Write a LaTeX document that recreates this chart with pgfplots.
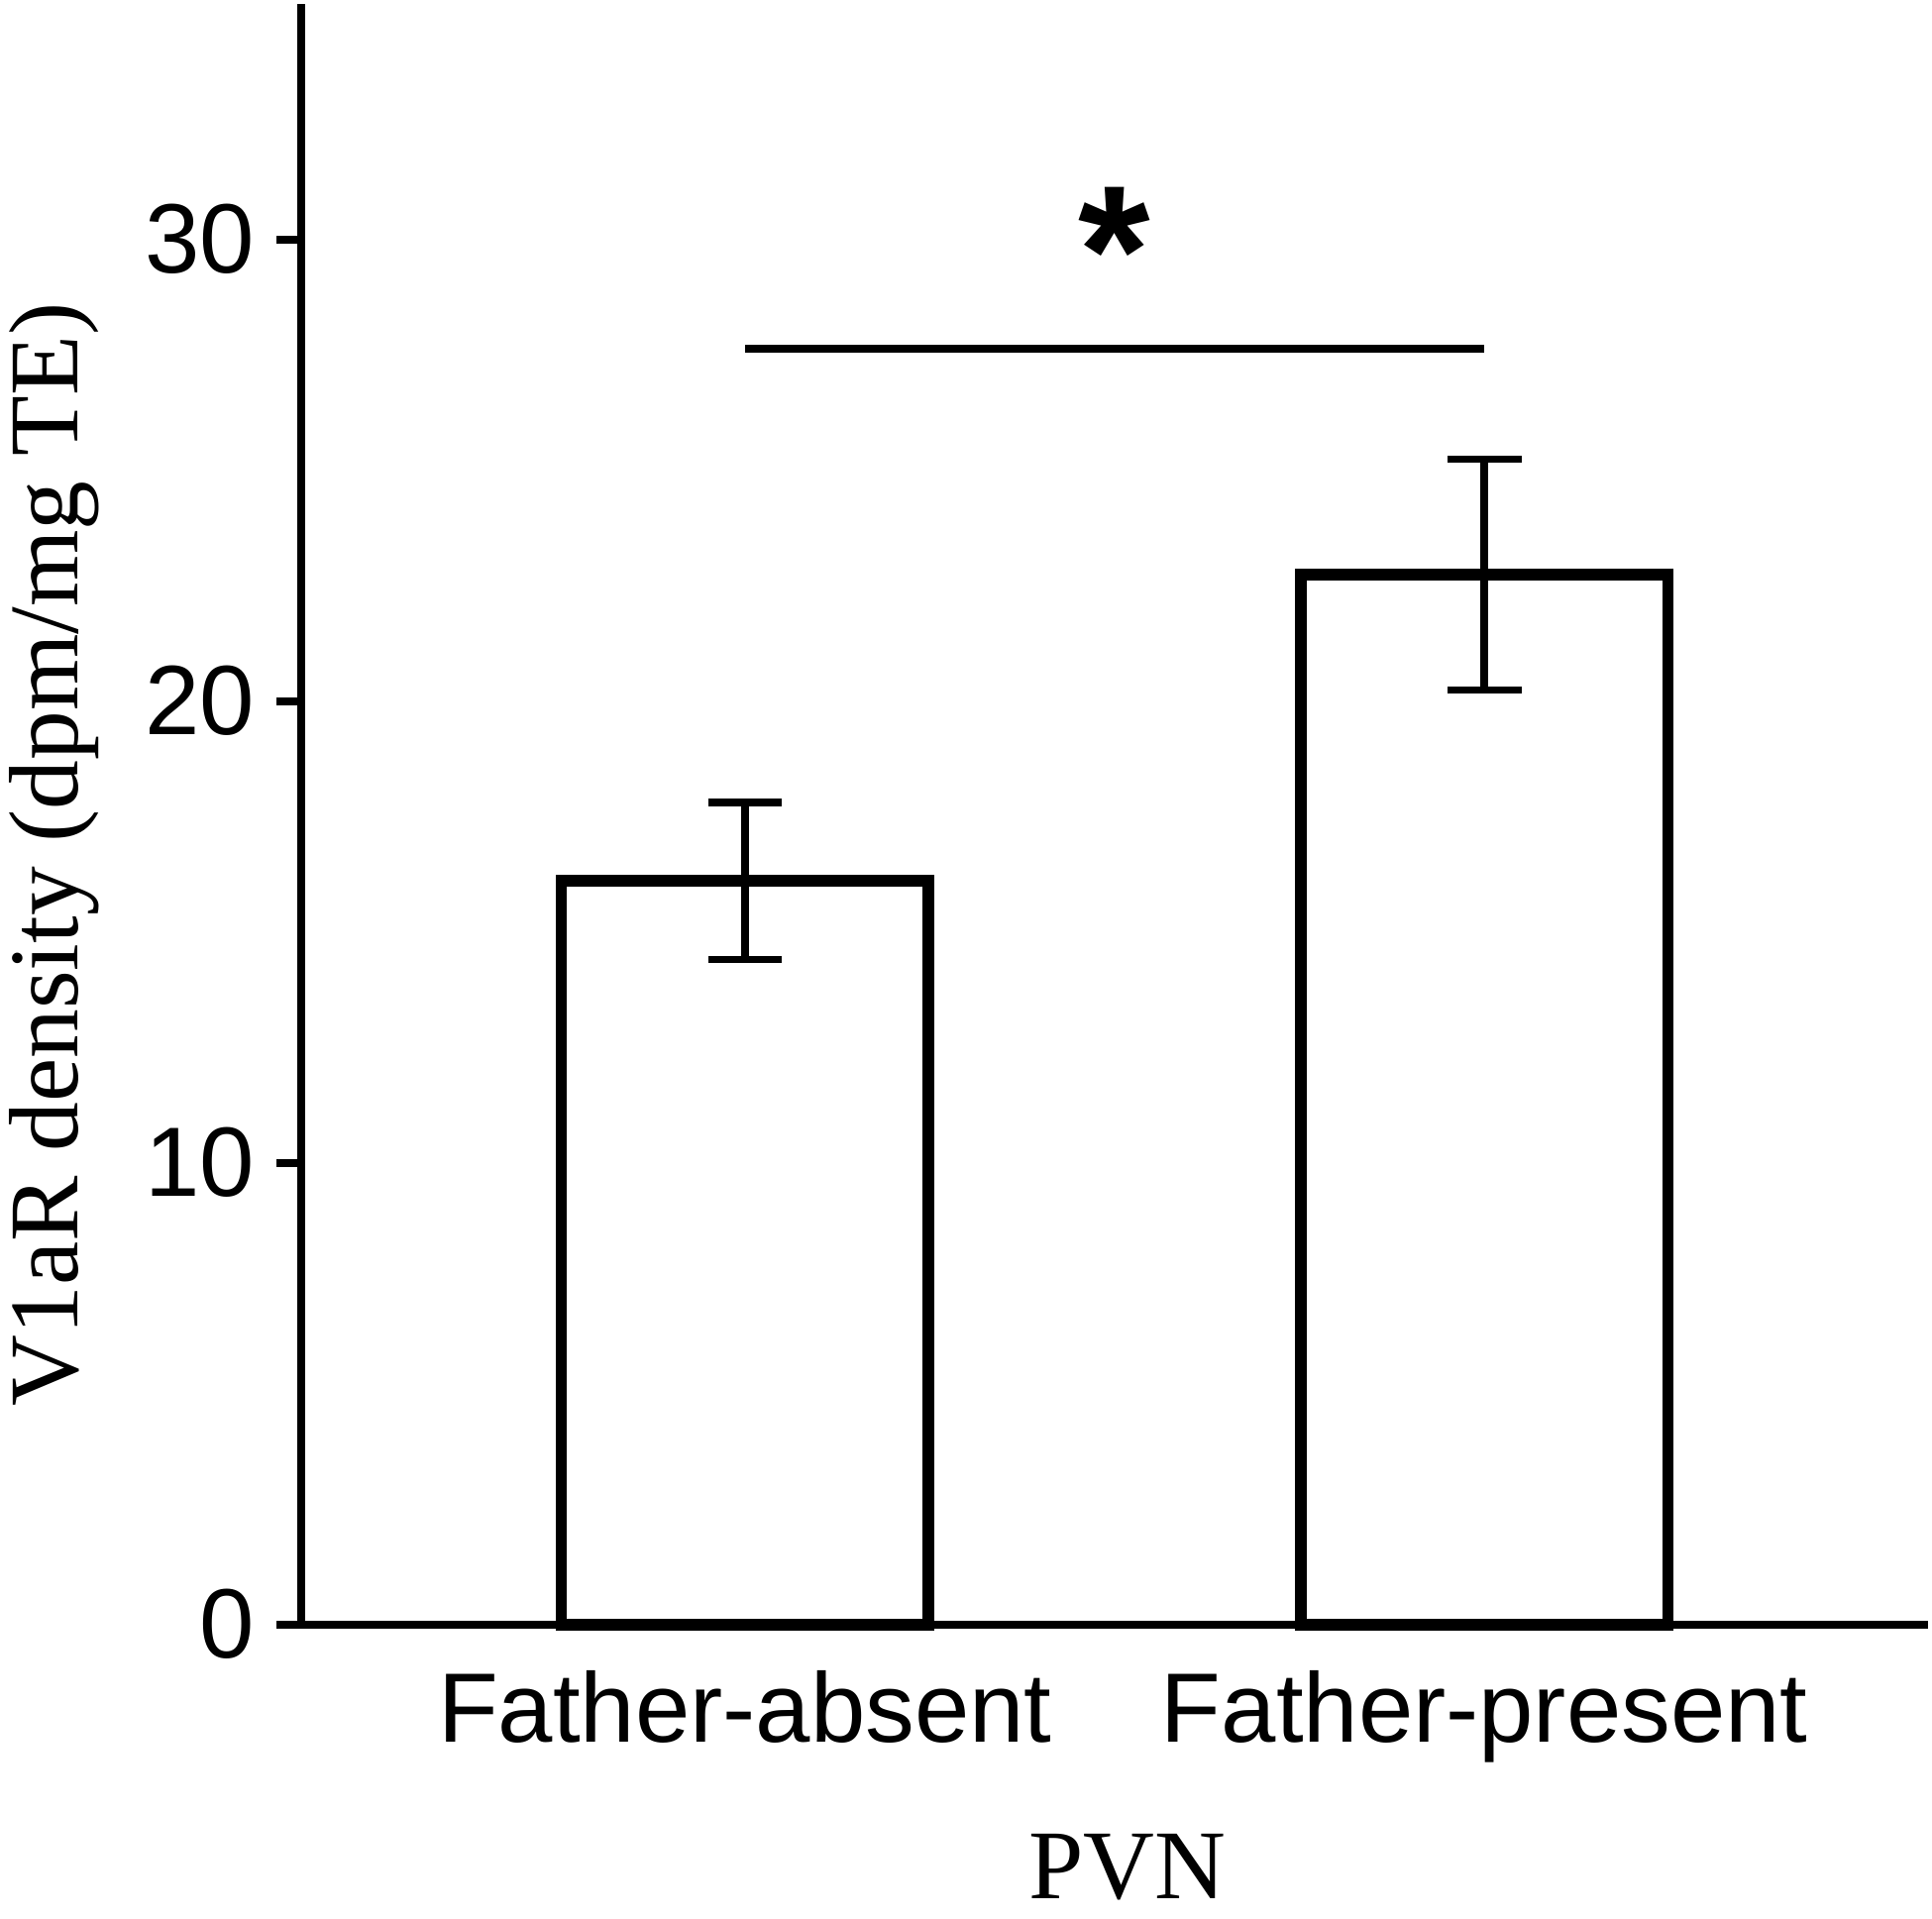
\documentclass[border=0pt]{standalone}
\usepackage{pgfplots}
\pgfplotsset{compat=1.18}
\usepackage{fontspec}
\setmainfont{Liberation Serif}
\newfontfamily\arial{Liberation Sans}
\begin{document}
\begin{tikzpicture}
\begin{axis}[
  width=264pt, height=263pt, scale only axis,
  xmin=-0.6, xmax=1.6, ymin=0, ymax=35.1,
  axis x line=bottom, axis y line=left,
  axis line style={line width=1.3pt, -},
  xtick={0,1}, xticklabels={Father-absent, Father-present},
  xtick style={draw=none},
  ytick={0,10,20,30},
  tick align=outside,
  ytick style={line width=1.3pt, black},
  major tick length=4pt,
  tick label style={font=\arial\fontsize{16}{19}\selectfont},
  /pgf/number format/assume math mode=true,
  xlabel={PVN}, ylabel={V1aR density (dpm/mg TE)},
  label style={font=\fontsize{16}{19}\selectfont, inner sep=1.5pt},
  xlabel style={at={(axis description cs:0.508,-0.150)}, anchor=center, inner sep=3pt},
  ylabel style={at={(axis description cs:-0.152,0.475)}, anchor=center},
  clip=false,
]
\addplot[ybar, bar width=59.6pt, draw=black, fill=white, line width=1.9pt,
  error bars/.cd, y dir=both, y explicit,
  error bar style={line width=1.2pt, black},
  error mark options={rotate=90, mark size=6pt, line width=1.2pt, black}]
  coordinates {(0,16.1) +- (0,1.7) (1,22.74) +- (0,2.5)};
\addplot[line width=1.3pt, black] coordinates {(0,27.64) (1,27.64)};
\node[font=\arial\bfseries\fontsize{30}{30}\selectfont, anchor=center] at (axis cs:0.5,29.75) {*};
\end{axis}
\end{tikzpicture}
\end{document}
